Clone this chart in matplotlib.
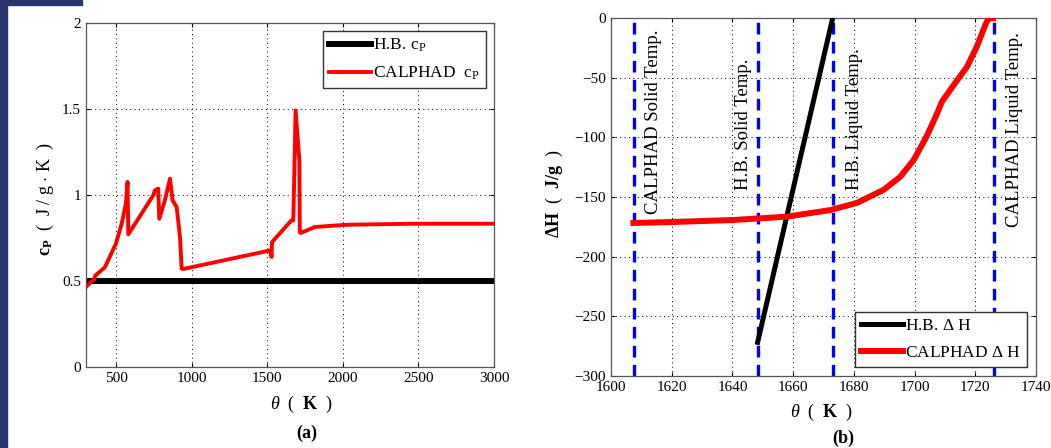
import matplotlib
matplotlib.use("Agg")
import matplotlib.pyplot as plt
from matplotlib.patches import Rectangle

plt.rcParams['font.family'] = ['Liberation Serif', 'DejaVu Serif']
plt.rcParams['mathtext.fontset'] = 'custom'
plt.rcParams['mathtext.rm'] = 'Liberation Serif'
plt.rcParams['mathtext.it'] = 'Liberation Serif:italic'
plt.rcParams['mathtext.bf'] = 'Liberation Serif:bold'

# (a) specific heat
hb_cp_T = [300, 3000]
hb_cp = [0.5, 0.5]
calphad_T = [300, 340, 355, 360, 425, 498, 536, 564, 575, 580, 745, 756, 778, 785,
             822, 856, 873, 900, 922, 933, 945, 1520, 1528, 1530, 1532, 1660, 1672,
             1687, 1712, 1715, 1720, 1815, 2024, 2465, 3000]
calphad_cp = [0.465, 0.50, 0.51, 0.53, 0.58, 0.717, 0.833, 0.95, 1.076, 0.771, 0.998,
              1.027, 1.037, 0.862, 0.969, 1.095, 0.969, 0.93, 0.756, 0.572, 0.57,
              0.678, 0.64, 0.70, 0.727, 0.853, 0.853, 1.492, 1.2, 0.785, 0.779,
              0.814, 0.827, 0.833, 0.833]

# (b) enthalpy
hb_dh_T = [1648.3, 1673.0]
hb_dh = [-272, 0]
calphad_dh_T = [1607.4, 1620, 1640.3, 1657.9, 1672.2, 1681, 1689.8, 1695.3, 1699.7,
                1704, 1707.4, 1709, 1712.9, 1717.3, 1720.5, 1723.3, 1724.4, 1725.8]
calphad_dh = [-171.8, -171, -169.3, -166.5, -161, -155, -144, -133, -119, -99, -80,
              -70, -56, -40.6, -23.8, -5.6, 0, 0]
temp_lines = [1607.5, 1648.3, 1673.1, 1726.3]
temp_labels = ['CALPHAD Solid Temp.', 'H.B. Solid Temp.', 'H.B. Liquid Temp.',
               'CALPHAD Liquid Temp.']
label_x = [1614, 1643.5, 1680.3, 1733]
label_y = [-164, -144, -144, -175]

fig = plt.figure(figsize=(10.51, 4.48), dpi=100)
fig.patches.append(Rectangle((0, 0), 7 / 1051, 1, transform=fig.transFigure,
                             color='#29346e', zorder=0))
fig.patches.append(Rectangle((0, 1 - 5 / 448), 82 / 1051, 5 / 448,
                             transform=fig.transFigure, color='#29346e', zorder=0))

grid_kw = dict(color='black', linestyle=(0, (1, 3.5)), linewidth=0.7)
leg_kw = dict(fontsize=12.5, handlelength=2.4, fancybox=False, framealpha=1,
              edgecolor='#333333', borderpad=0.35, labelspacing=0.6, handletextpad=0.15)

# ---- left panel
ax1 = fig.add_axes([86 / 1051, 81 / 448, 408 / 1051, 344 / 448])
ax1.plot(hb_cp_T, hb_cp, color='black', lw=4.3, label=r'H.B. $\mathrm{c_P}$')
ax1.plot(calphad_T, calphad_cp, color='red', lw=2.8, label=r'CALPHAD  $\mathrm{c_P}$')
ax1.set_xlim(300, 3000)
ax1.set_ylim(0, 2)
ax1.set_xticks([500, 1000, 1500, 2000, 2500, 3000])
ax1.set_yticks([0, 0.5, 1, 1.5, 2])
ax1.set_yticklabels(['0', '0.5', '1', '1.5', '2'])
ax1.grid(True, **grid_kw)
ax1.set_xlabel(r'$\mathbf{\mathit{\theta}}$  (  $\mathbf{K}$  )', fontsize=13, va='center')
ax1.xaxis.set_label_coords(0.529, -0.110)
ax1.set_ylabel(r'$\mathbf{c_P}$  (  J / g $\cdot$ K  )', fontsize=13, va='center')
ax1.yaxis.set_label_coords(-0.100, 0.488)
ax1.legend(loc='upper right', borderaxespad=0.45, **leg_kw)
ax1.text(0.542, -0.192, '(a)', transform=ax1.transAxes, ha='center', va='center',
         fontsize=13, fontweight='bold')

# ---- right panel
ax2 = fig.add_axes([611 / 1051, 72.3 / 448, 425 / 1051, 357.4 / 448])
for x in temp_lines:
    ax2.axvline(x, color='#0000ff', lw=2.4, linestyle=(0, (3.5, 2.2)), zorder=2)
ax2.plot(hb_dh_T, hb_dh, color='black', lw=3.6, label=r'H.B. $\Delta$ H', zorder=3)
ax2.plot(calphad_dh_T, calphad_dh, color='red', lw=4.3, label=r'CALPHAD $\Delta$ H',
         zorder=3)
for x, y, s in zip(label_x, label_y, temp_labels):
    ax2.text(x, y, s, rotation=90, ha='center', va='bottom', fontsize=13.5)
ax2.set_xlim(1600, 1740)
ax2.set_ylim(-300, 0)
ax2.set_xticks(range(1600, 1741, 20))
ax2.set_yticks(range(-300, 1, 50))
ax2.set_yticklabels(['\u2212300', '\u2212250', '\u2212200', '\u2212150', '\u2212100',
                     '\u221250', '0'])
ax2.grid(True, **grid_kw)
ax2.set_xlabel(r'$\mathbf{\mathit{\theta}}$  (  $\mathbf{K}$  )', fontsize=13, va='center')
ax2.xaxis.set_label_coords(0.496, -0.102)
ax2.set_ylabel(r'$\mathbf{\Delta H}$  (  $\mathbf{J/g}$  )', fontsize=13, va='center')
ax2.yaxis.set_label_coords(-0.132, 0.508)
ax2.legend(loc='lower right', borderaxespad=0.5, **leg_kw)
ax2.text(0.546, -0.175, '(b)', transform=ax2.transAxes, ha='center', va='center',
         fontsize=13, fontweight='bold')

for ax in (ax1, ax2):
    ax.tick_params(direction='in', labelsize=11, length=3, top=True, right=True)
    for sp in ax.spines.values():
        sp.set_color('#555555')
        sp.set_linewidth(0.9)
    ax.set_axisbelow(True)

fig.savefig('out.png', dpi=100)
